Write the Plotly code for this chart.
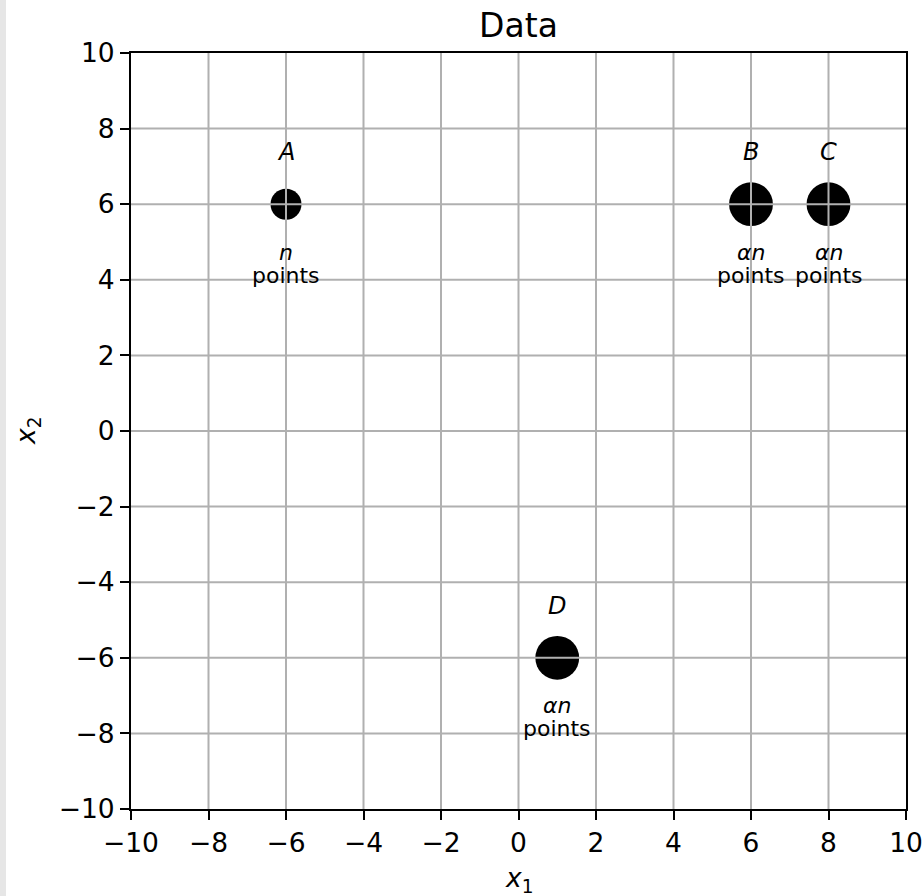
import plotly.graph_objects as go

# Cluster centres and their labels
names = ["A", "B", "C", "D"]
x1 = [-6, 6, 8, 1]
x2 = [6, 6, 6, -6]
counts = ["n", "αn", "αn", "αn"]
weights = [1, 2, 2, 2]  # relative mass of each cluster (alpha = 2)

ticks = list(range(-10, 11, 2))
tick_text = [str(t).replace("-", "\u2212") for t in ticks]

FONT = "DejaVu Sans"
L, R, T, B = 131, 18, 53, 87
W, H = 924, 896
plot_w, plot_h = W - L - R, H - T - B

base_d = 31  # marker diameter (px) for unit weight; area scales with weight
sizes = [base_d * w ** 0.5 for w in weights]

fig = go.Figure()
fig.add_trace(go.Scatter(
    x=x1, y=x2, mode="markers",
    marker=dict(size=sizes, color="#000000", opacity=1, line=dict(width=0)),
    hoverinfo="skip", showlegend=False,
))

# grid drawn over the markers
shapes = []
for t in ticks[1:-1]:
    shapes.append(dict(type="line", xref="x", yref="paper", x0=t, x1=t, y0=0, y1=1,
                       line=dict(color="#b0b0b0", width=2), layer="above"))
    shapes.append(dict(type="line", xref="paper", yref="y", x0=0, x1=1, y0=t, y1=t,
                       line=dict(color="#b0b0b0", width=2), layer="above"))
# light strip at the left edge of the page
shapes.append(dict(type="rect", xref="paper", yref="paper",
                   x0=-L / plot_w, x1=(6 - L) / plot_w,
                   y0=-B / plot_h - 0.01, y1=(H - B) / plot_h + 0.01,
                   fillcolor="#e6e6e6", line=dict(width=0), layer="below"))

annotations = []
for n, x, y, c in zip(names, x1, x2, counts):
    annotations.append(dict(x=x, y=y, xref="x", yref="y", text=f"<i>{n}</i>",
                            showarrow=False, yshift=52,
                            font=dict(family=FONT, size=24, color="black")))
    annotations.append(dict(x=x, y=y, xref="x", yref="y", text=f"<i>{c}</i>",
                            showarrow=False, yshift=-48,
                            font=dict(family=FONT, size=22, color="black")))
    annotations.append(dict(x=x, y=y, xref="x", yref="y", text="points",
                            showarrow=False, yshift=-71,
                            font=dict(family=FONT, size=22, color="black")))

annotations.append(dict(x=0.5, y=0, xref="paper", yref="paper",
                        text="<i>x</i><sub>1</sub>", showarrow=False,
                        yanchor="middle", yshift=-70,
                        font=dict(family=FONT, size=26.5, color="black")))
annotations.append(dict(x=0, y=0.5, xref="paper", yref="paper",
                        text="<i>x</i><sub>2</sub>", showarrow=False,
                        xanchor="center", xshift=-104, textangle=-90,
                        font=dict(family=FONT, size=26.5, color="black")))

axis_common = dict(
    range=[-10, 10], tickvals=ticks, ticktext=tick_text,
    showgrid=False, zeroline=False, automargin=False,
    showline=True, linecolor="black", linewidth=2, mirror=True,
    ticks="outside", ticklen=9, tickwidth=2, tickcolor="black",
    tickfont=dict(family=FONT, size=26.5, color="black"),
    layer="above traces",
)

fig.update_layout(
    width=W, height=H,
    margin=dict(l=L, r=R, t=T, b=B, pad=0, autoexpand=False),
    paper_bgcolor="white", plot_bgcolor="white",
    xaxis=dict(**axis_common),
    yaxis=dict(**axis_common),
    title=dict(text="Data", x=(L + plot_w / 2) / W, xanchor="center",
               y=1 - 25 / H, yanchor="middle", yref="container",
               font=dict(family=FONT, size=33, color="black")),
    shapes=shapes, annotations=annotations,
)

fig.write_html("out.html")
